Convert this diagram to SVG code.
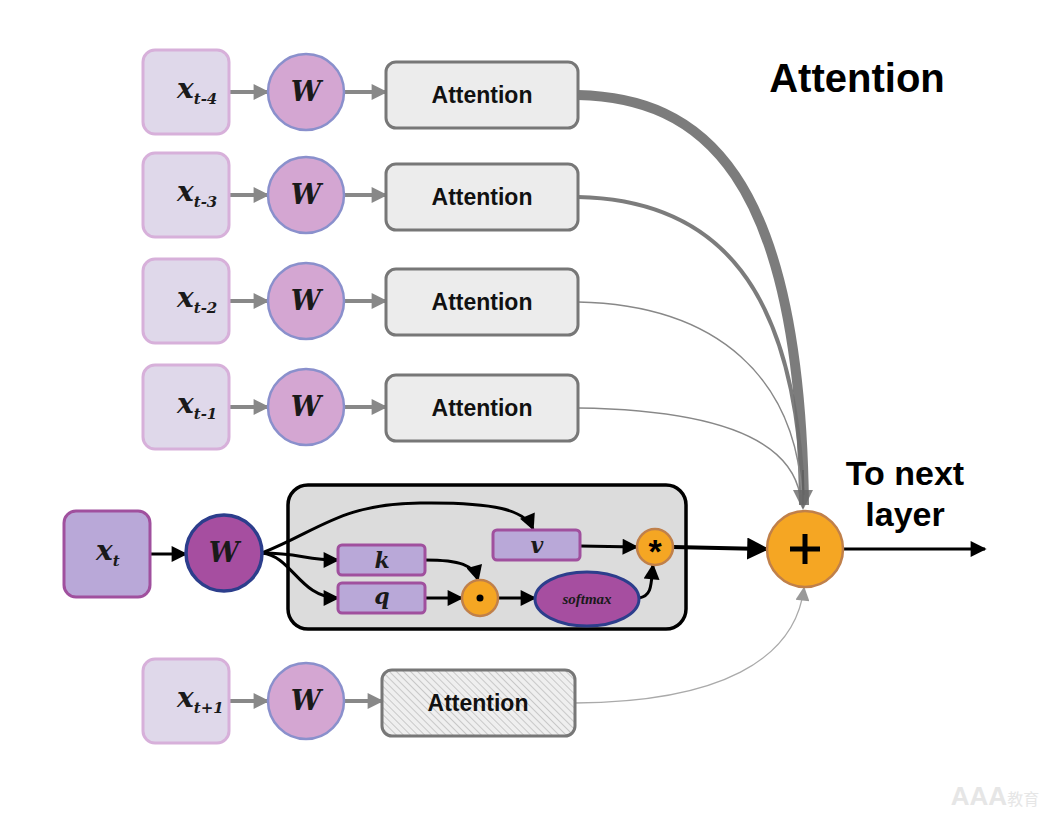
<svg xmlns="http://www.w3.org/2000/svg" width="1056" height="816" viewBox="0 0 1056 816">
<defs>
<style>
.xf{fill:#dfd8ea;stroke:#d7b0da;stroke-width:3}
.wf{fill:#d4a6d2;stroke:#8a90cc;stroke-width:2.5}
.att{fill:#ececec;stroke:#777;stroke-width:3}
.lbl{font-family:"Liberation Sans",Arial,sans-serif;font-weight:bold;font-size:23px;fill:#111;text-anchor:middle}
.math{font-family:"DejaVu Serif","Liberation Serif",serif;font-weight:bold;font-style:italic;fill:#1a1a1a}
.ga{stroke:#888;stroke-width:4;fill:none;marker-end:url(#ag)}
.ba{stroke:#000;stroke-width:3;fill:none;marker-end:url(#ab)}
.op{fill:#f5a623;stroke:#c0804a;stroke-width:2.5}
.inb{fill:#b9a8d8;stroke:#a0509e;stroke-width:3}
.big{font-family:"Liberation Sans",Arial,sans-serif;font-weight:bold;fill:#000;text-anchor:middle}
</style>
<marker id="ag" viewBox="0 0 10 10" refX="9" refY="5" markerWidth="20" markerHeight="16" markerUnits="userSpaceOnUse" orient="auto"><path d="M0,0 L10,5 L0,10 z" fill="#888"/></marker>
<marker id="ab" viewBox="0 0 10 10" refX="9" refY="5" markerWidth="20" markerHeight="16" markerUnits="userSpaceOnUse" orient="auto"><path d="M0,0 L10,5 L0,10 z" fill="#000"/></marker>
<marker id="abig" viewBox="0 0 10 10" refX="9" refY="5" markerWidth="30" markerHeight="22" markerUnits="userSpaceOnUse" orient="auto"><path d="M0,0 L10,5 L0,10 z" fill="#000"/></marker>
<marker id="agt" viewBox="0 0 10 10" refX="9" refY="5" markerWidth="24" markerHeight="20" markerUnits="userSpaceOnUse" orient="auto"><path d="M0,0 L10,5 L0,10 z" fill="#666" fill-opacity="0.8"/></marker>
<marker id="agl" viewBox="0 0 10 10" refX="9" refY="5" markerWidth="16" markerHeight="14" markerUnits="userSpaceOnUse" orient="auto"><path d="M0,0 L10,5 L0,10 z" fill="#999"/></marker>
<pattern id="hatch" patternUnits="userSpaceOnUse" width="5" height="5" patternTransform="rotate(-45)"><rect width="5" height="5" fill="#efefef"/><line x1="0" y1="0" x2="0" y2="5" stroke="#bbb" stroke-width="1.5"/></pattern>
</defs>
<rect width="1056" height="816" fill="#fff"/>

<g id="attention_block"><rect x="288" y="485" width="398" height="144" rx="20" fill="#dcdcdc" stroke="#000" stroke-width="3.5"/></g>

<g id="connectors">
<path class="ga" d="M229,92 L268,92"/><path class="ga" d="M344,92 L386,92"/>
<path class="ga" d="M229,195 L268,195"/><path class="ga" d="M344,195 L386,195"/>
<path class="ga" d="M229,301 L268,301"/><path class="ga" d="M344,301 L386,301"/>
<path class="ga" d="M229,407 L268,407"/><path class="ga" d="M344,407 L386,407"/>
<path class="ga" d="M229,701 L268,701"/><path class="ga" d="M344,701 L382,701"/>
<path class="ba" d="M150,554 L186,554"/>
<path d="M578,95 C700,98 800,170 804,505" stroke="#6e6e6e" stroke-opacity="0.9" stroke-width="10" fill="none"/>
<path d="M578,197 C720,200 795,290 803,495" stroke="#6e6e6e" stroke-opacity="0.9" stroke-width="4" fill="none"/>
<path d="M578,302 C720,305 795,380 802,495" stroke="#888" stroke-width="1.5" fill="none"/>
<path d="M578,408 C720,410 790,440 800,495" stroke="#888" stroke-width="1.5" fill="none"/>
<path d="M803,470 L803,508" stroke="#555" stroke-width="1" fill="none" marker-end="url(#agt)"/>
<path d="M575,703 C720,702 795,660 804,588" stroke="#aaa" stroke-width="1.3" fill="none" marker-end="url(#agl)"/>
<path class="ba" d="M262,553 C320,530 340,504 420,503 C495,502 525,510 533,529"/>
<path class="ba" d="M262,553 C300,553 305,560 338,560"/>
<path class="ba" d="M262,553 C292,556 300,598 338,598"/>
<path class="ba" d="M425,560 C460,560 474,565 478,580"/>
<path class="ba" d="M425,598 L462,598"/>
<path class="ba" d="M498,598 L535,598"/>
<path class="ba" d="M639,598 C652,596 651,585 653,565"/>
<path class="ba" d="M580,546 L637,547"/>
<path d="M673,547 L767,549" stroke="#000" stroke-width="4" fill="none" marker-end="url(#abig)"/>
<path class="ba" d="M843,549 L985,549"/>
</g>

<g id="title"><text class="big" x="857" y="92" font-size="40">Attention</text></g>
<g id="next-label"><text class="big" x="905" y="485" font-size="34">To next</text><text class="big" x="905" y="526" font-size="34">layer</text></g>

<g id="x_t-4"><rect class="xf" x="143" y="50" width="86" height="84" rx="12"/><text class="math" x="177" y="98" font-size="28">x<tspan font-size="15" dy="6">t-4</tspan></text></g>
<g id="w_t-4"><circle class="wf" cx="306" cy="92" r="38"/><text class="math" x="306" y="101" font-size="27" text-anchor="middle">W</text></g>
<g id="att_t-4"><rect class="att" x="386" y="62" width="192" height="66" rx="10"/><text class="lbl" x="482" y="103">Attention</text></g>

<g id="x_t-3"><rect class="xf" x="143" y="153" width="86" height="84" rx="12"/><text class="math" x="177" y="201" font-size="28">x<tspan font-size="15" dy="6">t-3</tspan></text></g>
<g id="w_t-3"><circle class="wf" cx="306" cy="195" r="38"/><text class="math" x="306" y="204" font-size="27" text-anchor="middle">W</text></g>
<g id="att_t-3"><rect class="att" x="386" y="164" width="192" height="66" rx="10"/><text class="lbl" x="482" y="205">Attention</text></g>

<g id="x_t-2"><rect class="xf" x="143" y="259" width="86" height="84" rx="12"/><text class="math" x="177" y="307" font-size="28">x<tspan font-size="15" dy="6">t-2</tspan></text></g>
<g id="w_t-2"><circle class="wf" cx="306" cy="301" r="38"/><text class="math" x="306" y="310" font-size="27" text-anchor="middle">W</text></g>
<g id="att_t-2"><rect class="att" x="386" y="269" width="192" height="66" rx="10"/><text class="lbl" x="482" y="310">Attention</text></g>

<g id="x_t-1"><rect class="xf" x="143" y="365" width="86" height="84" rx="12"/><text class="math" x="177" y="413" font-size="28">x<tspan font-size="15" dy="6">t-1</tspan></text></g>
<g id="w_t-1"><circle class="wf" cx="306" cy="407" r="38"/><text class="math" x="306" y="416" font-size="27" text-anchor="middle">W</text></g>
<g id="att_t-1"><rect class="att" x="386" y="375" width="192" height="66" rx="10"/><text class="lbl" x="482" y="416">Attention</text></g>

<g id="x_t"><rect class="inb" x="64" y="511" width="86" height="86" rx="12"/><text class="math" x="96" y="560" font-size="28">x<tspan font-size="15" dy="6">t</tspan></text></g>
<g id="w_t"><circle cx="224" cy="553" r="38" fill="#a64ea0" stroke="#2c3e8c" stroke-width="3.5"/><text class="math" x="224" y="562" font-size="27" text-anchor="middle">W</text></g>

<g id="k"><rect class="inb" x="338" y="545" width="87" height="30" rx="4"/><text class="math" x="382" y="568" font-size="22" text-anchor="middle">k</text></g>
<g id="q"><rect class="inb" x="338" y="583" width="87" height="30" rx="4"/><text class="math" x="382" y="604" font-size="22" text-anchor="middle">q</text></g>
<g id="v"><rect class="inb" x="493" y="530" width="87" height="30" rx="4"/><text class="math" x="537" y="553" font-size="22" text-anchor="middle">v</text></g>
<g id="dot"><circle class="op" cx="480" cy="598" r="18"/><circle cx="480" cy="598" r="3.5" fill="#000"/></g>
<g id="softmax"><ellipse cx="587" cy="599" rx="52" ry="27" fill="#a64ea0" stroke="#2c3e8c" stroke-width="3"/><text x="587" y="604" font-family="Liberation Serif,serif" font-style="italic" font-weight="bold" font-size="15" fill="#1a1a1a" text-anchor="middle">softmax</text></g>
<g id="mult"><circle class="op" cx="655" cy="547" r="18"/><text x="655" y="563" font-family="Liberation Sans,Arial,sans-serif" font-weight="bold" font-size="34" text-anchor="middle" fill="#000">*</text></g>

<g id="plus"><circle class="op" cx="805" cy="549" r="38"/><path d="M805,534 V564 M790,549 H820" stroke="#000" stroke-width="5"/></g>

<g id="x_t+1"><rect class="xf" x="143" y="659" width="86" height="84" rx="12"/><text class="math" x="177" y="707" font-size="28">x<tspan font-size="15" dy="6">t+1</tspan></text></g>
<g id="w_t+1"><circle class="wf" cx="306" cy="701" r="38"/><text class="math" x="306" y="710" font-size="27" text-anchor="middle">W</text></g>
<g id="att_t+1"><rect x="382" y="670" width="193" height="66" rx="10" fill="url(#hatch)" stroke="#777" stroke-width="3"/><text class="lbl" x="478" y="711">Attention</text></g>

<g id="watermark"><text x="995" y="805" font-family="Liberation Sans,'Noto Sans CJK SC',sans-serif" font-weight="bold" font-size="26" fill="#e6e6e6" text-anchor="middle">AAA<tspan font-size="16" font-weight="normal">教育</tspan></text></g>
</svg>
